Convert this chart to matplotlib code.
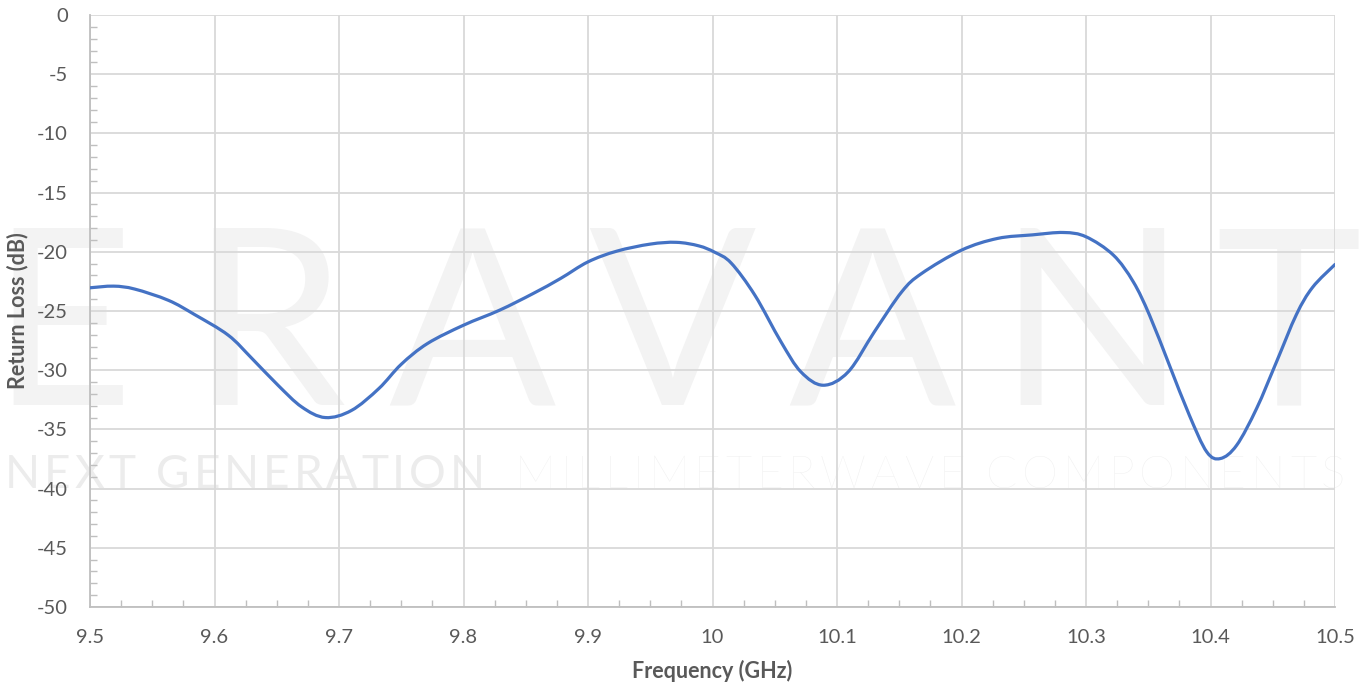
import numpy as np
import matplotlib
matplotlib.use('Agg')
import matplotlib.pyplot as plt
from matplotlib.ticker import MultipleLocator
from matplotlib.path import Path
from matplotlib.patches import PathPatch

freq = [9.500, 9.519, 9.536, 9.563, 9.584, 9.611, 9.630, 9.651, 9.670, 9.689,
        9.710, 9.732, 9.750, 9.771, 9.800, 9.829, 9.856, 9.878, 9.900, 9.923,
        9.950, 9.971, 9.989, 10.002, 10.015, 10.034, 10.055, 10.071, 10.089, 10.109,
        10.130, 10.152, 10.168, 10.200, 10.229, 10.257, 10.282, 10.300, 10.322, 10.338,
        10.351, 10.367, 10.383, 10.397, 10.408, 10.421, 10.437, 10.453, 10.469, 10.482,
        10.500]
rl = [-23.04, -22.90, -23.15, -24.10, -25.30, -27.04, -29.00, -31.27, -33.10, -34.00,
      -33.40, -31.55, -29.50, -27.75, -26.20, -24.93, -23.52, -22.25, -20.85, -19.95,
      -19.35, -19.20, -19.50, -20.05, -20.95, -23.66, -27.60, -30.14, -31.27, -30.14,
      -26.76, -23.38, -21.83, -19.86, -18.87, -18.57, -18.37, -18.73, -20.28, -22.54,
      -25.35, -29.58, -33.80, -36.90, -37.46, -36.34, -33.24, -29.30, -25.30, -23.00,
      -21.07]

wm_big = ['E', 'R', 'A', 'V', 'A', 'N', 'T']
wm_big_x = [62, 268, 472, 672, 872, 1092, 1288]   # letter centres, px

plt.rcParams['font.family'] = ['Lato', 'DejaVu Sans']
plt.rcParams['axes.unicode_minus'] = False

W, H = 1369, 685
fig = plt.figure(figsize=(W/100, H/100), dpi=100)
ax = fig.add_axes([90/W, 1-607/H, (1335-90)/W, (607-15)/H])
ax.set_facecolor('none')
rend = fig.canvas.get_renderer()


def spaced_text(x0, x1, y, s, **kw):
    # lay the letters out one by one so the string fills x0..x1 (px)
    arts, widths = [], []
    for ch in s:
        t = fig.text(0, 1-y/H, ch if ch != ' ' else 'I', ha='left', va='baseline', zorder=-5, **kw)
        widths.append(t.get_window_extent(rend).width)
        if ch == ' ':
            t.set_visible(False)
        arts.append(t)
    gap = (x1 - x0 - sum(widths)) / (len(s) - 1)
    x = x0
    for t, w in zip(arts, widths):
        t.set_x(x/W)
        x += w + gap


# watermark behind the axes
for ch, cx in zip(wm_big, wm_big_x):
    fig.text(cx/W, 1-405/H, ch, fontsize=178, color='#f3f3f3', ha='center', va='baseline',
             fontweight='normal', zorder=-5)
spaced_text(5, 485, 488, 'NEXT GENERATION', fontsize=33, color='#ececec', fontweight='normal')
spaced_text(515, 1345, 488, 'MILLIMETERWAVE COMPONENTS', fontsize=33, color='#efefef',
            fontweight='light')

# smoothed line like excel (catmull-rom -> cubic bezier)
pts = np.column_stack([freq, rl])
verts = [pts[0]]
codes = [Path.MOVETO]
for i in range(len(pts)-1):
    p0 = pts[max(i-1, 0)]
    p1 = pts[i]
    p2 = pts[i+1]
    p3 = pts[min(i+2, len(pts)-1)]
    verts += [p1 + (p2-p0)/6, p2 - (p3-p1)/6, p2]
    codes += [Path.CURVE4]*3
ax.add_patch(PathPatch(Path(verts, codes), fill=False, edgecolor='#4472C4', lw=2.3,
                       capstyle='round', joinstyle='round', zorder=3))

ax.set_xlim(9.5, 10.5)
ax.set_ylim(-50, 0)
ax.xaxis.set_major_locator(MultipleLocator(0.1))
ax.xaxis.set_minor_locator(MultipleLocator(0.025))
ax.yaxis.set_major_locator(MultipleLocator(5))
ax.yaxis.set_minor_locator(MultipleLocator(1))
xt = np.round(np.arange(9.5, 10.51, 0.1), 1)
ax.set_xticks(xt)
ax.set_xticklabels(['%g' % v for v in xt])
ax.grid(True, which='major', color='#d9d9d9', lw=1.3, zorder=1)
ax.set_axisbelow(True)

for s in ['top', 'right']:
    ax.spines[s].set_visible(False)
for s in ['left', 'bottom']:
    ax.spines[s].set_color('#bfbfbf')
    ax.spines[s].set_linewidth(1.3)

ax.tick_params(which='major', direction='in', length=0, pad=16, labelsize=14.5,
               labelcolor='#595959')
ax.tick_params(which='minor', direction='in', length=5, width=1, color='#bfbfbf')

ax.set_xlabel('Frequency (GHz)', fontsize=15.5, fontweight='bold', color='#595959', labelpad=10)
ax.set_ylabel('Return Loss (dB)', fontsize=15.5, fontweight='bold', color='#595959', labelpad=6)

fig.savefig('out.png', dpi=100)
